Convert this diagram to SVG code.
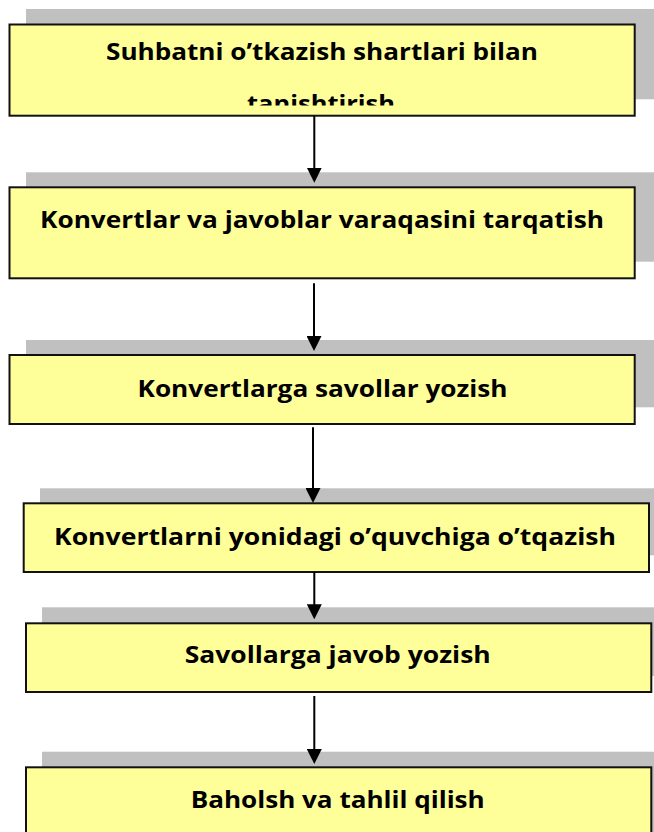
<svg xmlns="http://www.w3.org/2000/svg" width="654" height="832" viewBox="0 0 654 832">
<style>
.shadow{fill:#c0c0c0;stroke:none}
.box{fill:#ffff99;stroke:#111;stroke-width:2}
.lbl{font-family:"Open Sans","Noto Sans","Liberation Sans",sans-serif;font-weight:bold;font-size:23px;fill:#000;text-anchor:middle}
.conn{stroke:#000;stroke-width:2;fill:none;marker-end:url(#ah)}
</style>
<defs>
<marker id="ah" markerUnits="userSpaceOnUse" markerWidth="15" markerHeight="15" refX="1" refY="7.5" orient="auto" viewBox="0 0 15 15">
<path d="M0,0 L15,7.5 L0,15 z" fill="#000"/>
</marker>
<clipPath id="c1"><rect x="0" y="24" width="654" height="81.5"/></clipPath>
</defs>
<rect width="654" height="832" fill="#fff"/>
<g id="n1">
<rect class="shadow" x="26" y="9" width="640" height="90.3"/>
<rect class="box" x="9.5" y="24.5" width="625.2" height="91.2"/>
<g clip-path="url(#c1)">
<text class="lbl" x="322" y="60" textLength="432" lengthAdjust="spacingAndGlyphs">Suhbatni o’tkazish shartlari bilan</text>
<text class="lbl" x="321" y="111.7" textLength="148" lengthAdjust="spacingAndGlyphs">tanishtirish</text>
</g>
</g>
<g id="n2">
<rect class="shadow" x="26" y="172.3" width="640" height="89.4"/>
<rect class="box" x="9.5" y="187.3" width="625.2" height="91"/>
<text class="lbl" x="322" y="228.3" textLength="564" lengthAdjust="spacingAndGlyphs">Konvertlar va javoblar varaqasini tarqatish</text>
</g>
<g id="n3">
<rect class="shadow" x="26" y="340" width="640" height="67.3"/>
<rect class="box" x="9.5" y="355" width="625.2" height="69"/>
<text class="lbl" x="322.5" y="396.7" textLength="370" lengthAdjust="spacingAndGlyphs">Konvertlarga savollar yozish</text>
</g>
<g id="n4">
<rect class="shadow" x="40" y="488.3" width="640" height="67"/>
<rect class="box" x="23.7" y="503.3" width="625.3" height="68.7"/>
<text class="lbl" x="335" y="545" textLength="562" lengthAdjust="spacingAndGlyphs">Konvertlarni yonidagi o’quvchiga o’tqazish</text>
</g>
<g id="n5">
<rect class="shadow" x="42" y="607.3" width="640" height="68.7"/>
<rect class="box" x="26" y="623.3" width="625.3" height="68.7"/>
<text class="lbl" x="337.7" y="663.3" textLength="306" lengthAdjust="spacingAndGlyphs">Savollarga javob yozish</text>
</g>
<g id="n6">
<rect class="shadow" x="42" y="751.7" width="640" height="100"/>
<rect class="box" x="26" y="767.3" width="625.3" height="100"/>
<text class="lbl" x="337.7" y="808.3" textLength="294" lengthAdjust="spacingAndGlyphs">Baholsh va tahlil qilish</text>
</g>
<g id="connectors">
<line class="conn" x1="314.3" y1="116" x2="314.3" y2="168.7"/>
<line class="conn" x1="314" y1="283.3" x2="314" y2="337"/>
<line class="conn" x1="313" y1="427.3" x2="313" y2="489"/>
<line class="conn" x1="314.3" y1="572" x2="314.3" y2="605.3"/>
<line class="conn" x1="314.3" y1="696" x2="314.3" y2="750"/>
</g>
</svg>
